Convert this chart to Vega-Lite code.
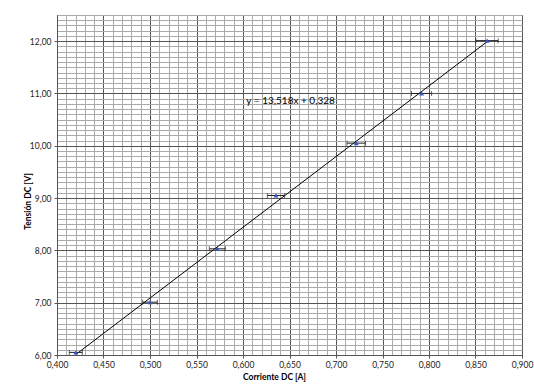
{
  "$schema": "https://vega.github.io/schema/vega-lite/v6.json",
  "width": 465,
  "height": 340,
  "autosize": {"type": "none"},
  "padding": {"left": 57, "top": 15, "right": 12, "bottom": 30},
  "background": "white",
  "config": {
    "view": {"stroke": "#555555", "strokeWidth": 1},
    "font": "Lato"
  },
  "datasets": {
    "pts": [
      {"corriente": 0.4202, "tension": 6.05, "lo": 0.4132, "hi": 0.4272},
      {"corriente": 0.5000, "tension": 7.01, "lo": 0.4921, "hi": 0.5079},
      {"corriente": 0.5724, "tension": 8.03, "lo": 0.5638, "hi": 0.5810},
      {"corriente": 0.6355, "tension": 9.05, "lo": 0.6262, "hi": 0.6448},
      {"corriente": 0.7218, "tension": 10.05, "lo": 0.7118, "hi": 0.7318},
      {"corriente": 0.7920, "tension": 11.00, "lo": 0.7812, "hi": 0.8028},
      {"corriente": 0.8624, "tension": 12.01, "lo": 0.8504, "hi": 0.8744}
    ],
    "eq": [
      {"corriente": 0.6036, "tension": 10.85, "label": "y = 13,518x + 0,328"}
    ]
  },
  "layer": [
    {
      "data": {"name": "pts"},
      "transform": [{"regression": "tension", "on": "corriente"}],
      "mark": {"type": "line", "color": "#000000", "strokeWidth": 1},
      "encoding": {
        "x": {
          "field": "corriente",
          "type": "quantitative",
          "scale": {"domain": [0.4, 0.9], "nice": false, "zero": false},
          "axis": {
            "title": "Corriente DC [A]",
            "titleFont": "Lato",
            "titleFontSize": 8.5,
            "titleFontWeight": "bold",
            "titleColor": "#000000",
            "titleX": 217,
            "titlePadding": 4,
            "tickCount": 200,
            "values": [0.40,0.41,0.42,0.43,0.44,0.45,0.46,0.47,0.48,0.49,0.50,0.51,0.52,0.53,0.54,0.55,0.56,0.57,0.58,0.59,0.60,0.61,0.62,0.63,0.64,0.65,0.66,0.67,0.68,0.69,0.70,0.71,0.72,0.73,0.74,0.75,0.76,0.77,0.78,0.79,0.80,0.81,0.82,0.83,0.84,0.85,0.86,0.87,0.88,0.89,0.90],
            "labelExpr": "abs(round(datum.value*100)) % 5 == 0 ? replace(format(datum.value, '.3f'), '.', ',') : ''",
            "labelOverlap": false,
            "labelFlush": false,
            "labelFont": "Lato",
            "labelFontSize": 8.5,
            "labelColor": "#222222",
            "labelPadding": 2,
            "tickSize": 3,
            "tickColor": "#555555",
            "tickOpacity": {"condition": {"test": "abs(round(datum.value*100)) % 5 == 0", "value": 1}, "value": 0},
            "domainColor": "#555555",
            "grid": true,
            "gridWidth": 1,
            "gridOpacity": 1,
            "gridColor": {"condition": {"test": "abs(round(datum.value*100)) % 5 == 0", "value": "#555555"}, "value": "#ababab"}
          }
        },
        "y": {
          "field": "tension",
          "type": "quantitative",
          "scale": {"domain": [6, 12.5], "nice": false, "zero": false},
          "axis": {
            "title": "Tensión DC [V]",
            "titleFont": "Lato",
            "titleFontSize": 8.5,
            "titleFontWeight": "bold",
            "titleColor": "#000000",
            "titleX": -30,
            "titleY": 186,
            "titleAlign": "center",
            "titleBaseline": "middle",
            "tickCount": 200,
            "values": [6.0,6.1,6.2,6.3,6.4,6.5,6.6,6.7,6.8,6.9,7.0,7.1,7.2,7.3,7.4,7.5,7.6,7.7,7.8,7.9,8.0,8.1,8.2,8.3,8.4,8.5,8.6,8.7,8.8,8.9,9.0,9.1,9.2,9.3,9.4,9.5,9.6,9.7,9.8,9.9,10.0,10.1,10.2,10.3,10.4,10.5,10.6,10.7,10.8,10.9,11.0,11.1,11.2,11.3,11.4,11.5,11.6,11.7,11.8,11.9,12.0,12.1,12.2,12.3,12.4,12.5],
            "labelExpr": "abs(round(datum.value*10)) % 10 == 0 ? replace(format(datum.value, '.2f'), '.', ',') : ''",
            "labelOverlap": false,
            "labelFlush": false,
            "labelFont": "Lato",
            "labelFontSize": 8.5,
            "labelColor": "#222222",
            "labelPadding": 3,
            "tickSize": 3,
            "tickColor": "#555555",
            "tickOpacity": {"condition": {"test": "abs(round(datum.value*10)) % 10 == 0", "value": 1}, "value": 0},
            "domainColor": "#555555",
            "grid": true,
            "gridWidth": 1,
            "gridOpacity": 1,
            "gridColor": {"condition": {"test": "abs(round(datum.value*10)) % 10 == 0", "value": "#555555"}, "value": "#ababab"}
          }
        }
      }
    },
    {
      "data": {"name": "pts"},
      "mark": {"type": "rule", "color": "#222222", "strokeWidth": 1},
      "encoding": {
        "x": {"field": "lo", "type": "quantitative"},
        "x2": {"field": "hi"},
        "y": {"field": "tension", "type": "quantitative"}
      }
    },
    {
      "data": {"name": "pts"},
      "mark": {"type": "tick", "orient": "vertical", "color": "#222222", "size": 5, "thickness": 1},
      "encoding": {
        "x": {"field": "lo", "type": "quantitative"},
        "y": {"field": "tension", "type": "quantitative"}
      }
    },
    {
      "data": {"name": "pts"},
      "mark": {"type": "tick", "orient": "vertical", "color": "#222222", "size": 5, "thickness": 1},
      "encoding": {
        "x": {"field": "hi", "type": "quantitative"},
        "y": {"field": "tension", "type": "quantitative"}
      }
    },
    {
      "data": {"name": "pts"},
      "mark": {"type": "point", "shape": "triangle-up", "filled": true, "size": 24, "color": "#3358c4", "opacity": 1},
      "encoding": {
        "x": {"field": "corriente", "type": "quantitative"},
        "y": {"field": "tension", "type": "quantitative"}
      }
    },
    {
      "data": {"name": "eq"},
      "mark": {"type": "text", "align": "left", "baseline": "middle", "font": "Lato", "fontSize": 10, "color": "#000000"},
      "encoding": {
        "x": {"field": "corriente", "type": "quantitative"},
        "y": {"field": "tension", "type": "quantitative"},
        "text": {"field": "label"}
      }
    }
  ]
}
